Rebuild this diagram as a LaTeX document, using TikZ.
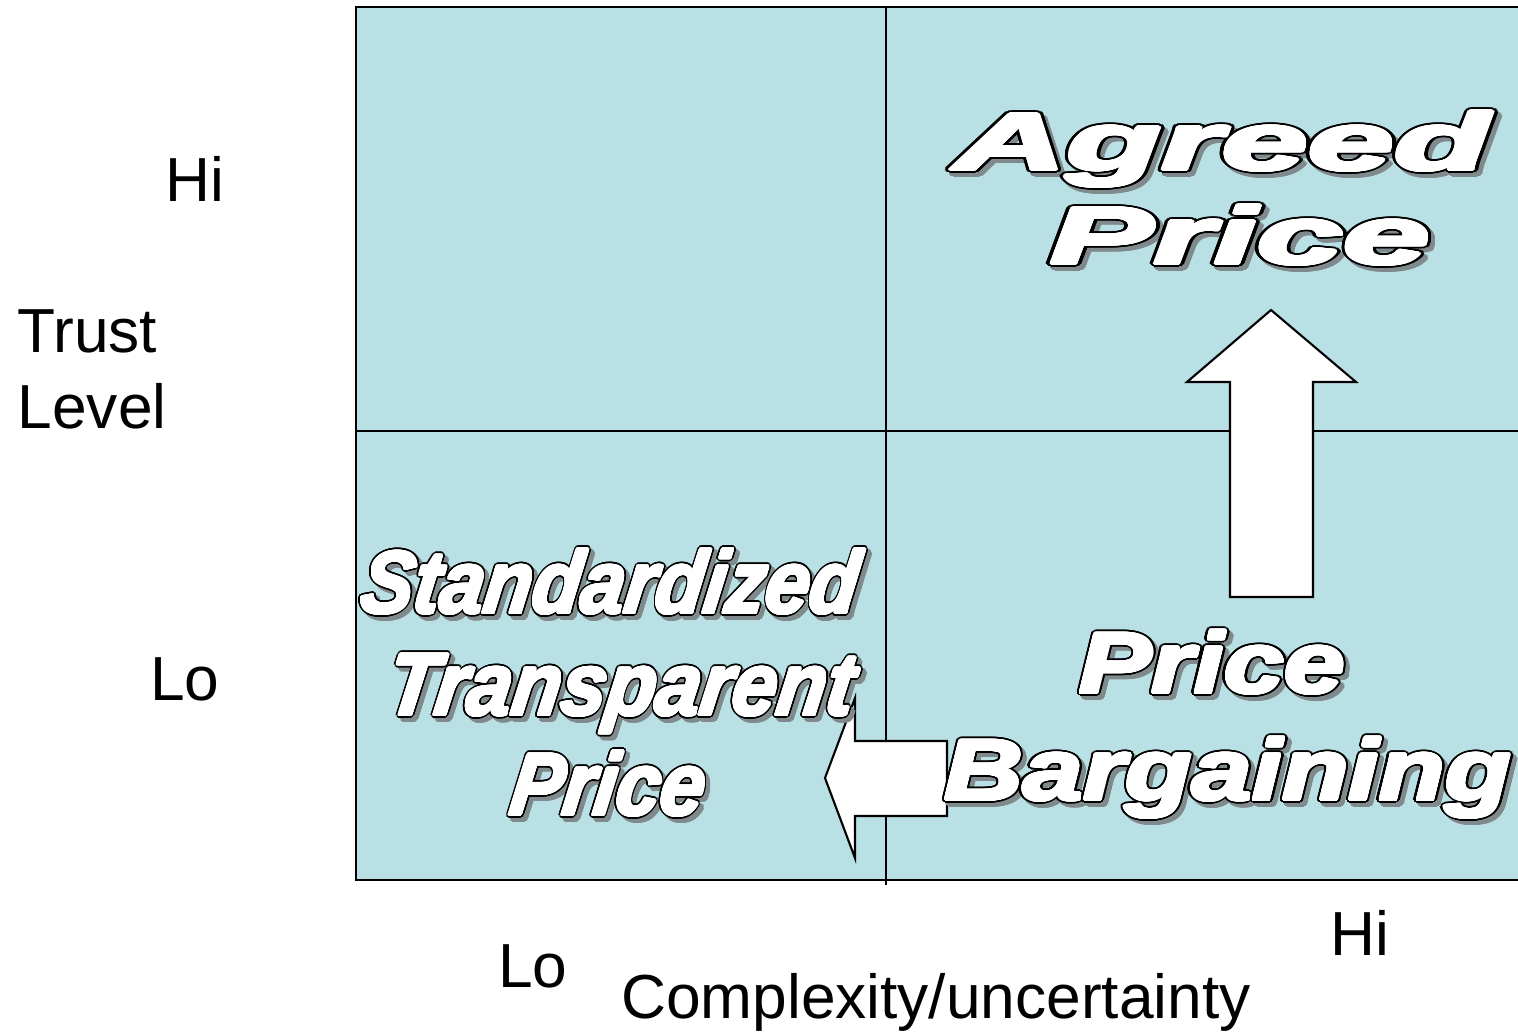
\documentclass[tikz,border=0pt]{standalone}
\usepackage{fontspec}
\setmainfont{Liberation Sans}
\usepackage{contour}
\contournumber{24}
\definecolor{cellblue}{RGB}{185,224,228}
\definecolor{shadowgray}{RGB}{128,138,140}
\newcommand{\fancyfg}[1]{\rlap{\contourlength{0.95pt}\contour{black}{#1}}\contourlength{0.4pt}\color{white}\contour{white}{#1}}
\newcommand{\fancysh}[1]{\contourlength{0.95pt}\color{shadowgray}\contour{shadowgray}{#1}}
\tikzset{
  lbl/.style={anchor=base, inner sep=0pt, font=\fontsize{17.7}{20}\selectfont},
  gridline/.style={line width=0.6pt},
  frameline/.style={line width=0.8pt},
  bigarrow/.style={fill=white, draw=black, line width=0.6pt, line join=miter},
  fancy/.style={anchor=base, inner sep=0pt, transform shape, font=\fontsize{#1}{#1}\selectfont\bfseries\itshape},
}
\begin{document}
\begin{tikzpicture}[x=0.01cm, y=-0.01cm]
\useasboundingbox (0,0) rectangle (1518,1032);
\clip (0,0) rectangle (1518,1032);
% cells
\fill[cellblue] (356,7) rectangle (1530,880);
\draw[frameline] (1530,7) -- (356,7) -- (356,880) -- (1530,880);
\coordinate (vt) at (886,7);
\coordinate (vb) at (886,885);
\coordinate (hl) at (356,431);
\coordinate (hr) at (1530,431);
\draw[gridline] (vt) -- (vb);
\draw[gridline] (hl) -- (hr);
% arrows
\draw[bigarrow] (1271,310) -- (1356,382) -- (1313,382) -- (1313,597) -- (1230,597) -- (1230,382) -- (1187,382) -- cycle;
\draw[bigarrow] (825,778) -- (855,698) -- (855,741) -- (947,741) -- (947,816) -- (855,816) -- (855,858) -- cycle;
% fancy texts
\node[fancy=23, xscale=1.92] (agreedS) at (1226,174) {\fancysh{Agreed}};
\node[fancy=23, xscale=1.92] (agreed) at (1222,170) {\fancyfg{Agreed}};
\node[fancy=23, xscale=1.92] (priceAS) at (1244,268) {\fancysh{Price}};
\node[fancy=23, xscale=1.92] (priceA) at (1240,264) {\fancyfg{Price}};
\node[fancy=24.5, xscale=1.26] (priceBS) at (1216,697) {\fancysh{Price}};
\node[fancy=24.5, xscale=1.26] (priceB) at (1212,693) {\fancyfg{Price}};
\node[fancy=24.5, xscale=1.26] (bargS) at (1232,804) {\fancysh{Bargaining}};
\node[fancy=24.5, xscale=1.26] (barg) at (1228,800) {\fancyfg{Bargaining}};
\node[fancy=25, xscale=0.9, xslant=0.15] (stdS) at (611,617) {\fancysh{Standardized}};
\node[fancy=25, xscale=0.9, xslant=0.15] (std) at (607,613) {\fancyfg{Standardized}};
\node[fancy=25, xscale=0.92, xslant=0.15] (traS) at (622,719) {\fancysh{Transparent}};
\node[fancy=25, xscale=0.92, xslant=0.15] (tra) at (618,715) {\fancyfg{Transparent}};
\node[fancy=25, xscale=0.9, xslant=0.15] (priceCS) at (609,819) {\fancysh{Price}};
\node[fancy=25, xscale=0.9, xslant=0.15] (priceC) at (605,815) {\fancyfg{Price}};
% labels
\node[lbl] (hiY) at (195,201) {Hi};
\node[lbl, anchor=base west] (trust) at (17,352) {Trust};
\node[lbl, anchor=base west] (level) at (17,428) {Level};
\node[lbl] (loY) at (185,700) {Lo};
\node[lbl] (loX) at (533,987) {Lo};
\node[lbl] (cx) at (936,1018) {Complexity/uncertainty};
\node[lbl] (hiX) at (1360,955) {Hi};
\end{tikzpicture}
\end{document}
